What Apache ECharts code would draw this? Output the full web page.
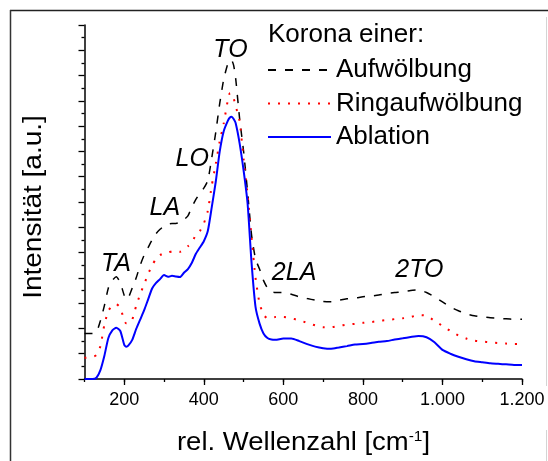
<!DOCTYPE html>
<html>
<head>
<meta charset="utf-8">
<script src="https://cdn.jsdelivr.net/npm/echarts@6/dist/echarts.min.js"></script>
<style>
  html, body { margin: 0; padding: 0; background: #fff; }
  #chart { width: 548px; height: 461px; }
</style>
</head>
<body>
<div id="chart"></div>
<script>
// Raman-Spektren (rel. Wellenzahl in cm^-1, Intensität in willkürlichen Einheiten)
const wavenumbers = [
  100, 120, 130, 140, 150, 160, 170, 180, 190, 200, 205, 210, 220, 230, 240, 250,
  260, 270, 280, 290, 300, 310, 320, 330, 340, 350, 360, 370, 380, 390, 400, 410,
  420, 430, 440, 450, 460, 465, 470, 475, 480, 490, 500, 510, 520, 530, 540, 550,
  560, 570, 580, 600, 620, 640, 660, 680, 700, 720, 740, 760, 780, 800, 820, 840,
  860, 880, 900, 920, 940, 960, 980, 1000, 1020, 1040, 1060, 1080, 1100, 1120,
  1140, 1160, 1180, 1200
];

const aufwoelbung = [
  1.80, 1.80, 1.85, 2.30, 2.90, 3.60, 3.90, 4.04, 3.80, 3.30, 3.15, 3.20, 3.60, 4.00, 4.50, 4.90,
  5.20, 5.50, 5.75, 5.92, 6.05, 6.12, 6.15, 6.15, 6.20, 6.30, 6.45, 6.80, 7.10, 7.35, 7.55, 7.85,
  8.75, 9.75, 10.90, 11.85, 12.45, 12.60, 12.60, 12.40, 11.90, 10.30, 9.00, 7.40, 5.70, 4.75, 4.35, 3.90,
  3.60, 3.45, 3.42, 3.42, 3.35, 3.25, 3.18, 3.12, 3.07, 3.06, 3.12, 3.17, 3.20, 3.25, 3.28, 3.32,
  3.38, 3.42, 3.45, 3.50, 3.52, 3.42, 3.25, 3.05, 2.85, 2.70, 2.58, 2.50, 2.46, 2.42,
  2.40, 2.38, 2.36, 2.36
];

const ringaufwoelbung = [
  0.84, 0.87, 0.95, 1.30, 2.15, 2.70, 2.90, 2.96, 2.82, 2.30, 2.20, 2.20, 2.35, 2.90, 3.35, 3.75,
  4.15, 4.50, 4.75, 4.90, 4.97, 5.00, 5.05, 5.06, 5.03, 5.10, 5.25, 5.40, 5.70, 5.85, 6.15, 6.65,
  7.65, 8.50, 9.40, 10.10, 11.00, 11.29, 11.30, 11.10, 10.80, 10.20, 8.70, 7.30, 5.60, 4.00, 3.00, 2.55,
  2.40, 2.40, 2.45, 2.45, 2.40, 2.32, 2.22, 2.12, 2.05, 2.05, 2.10, 2.15, 2.18, 2.22, 2.25, 2.30,
  2.33, 2.37, 2.40, 2.45, 2.53, 2.50, 2.30, 2.10, 1.90, 1.72, 1.60, 1.52, 1.48, 1.45,
  1.42, 1.40, 1.38, 1.38
];

const ablation = [
  0.00, 0.00, 0.05, 0.35, 0.92, 1.62, 1.92, 2.03, 1.90, 1.35, 1.28, 1.32, 1.55, 1.98, 2.35, 2.72,
  3.15, 3.58, 3.80, 3.95, 4.11, 4.04, 4.08, 4.05, 4.03, 4.20, 4.35, 4.60, 4.95, 5.20, 5.45, 5.85,
  6.80, 7.80, 9.00, 9.80, 10.20, 10.33, 10.37, 10.28, 10.12, 9.32, 8.25, 6.95, 4.60, 2.85, 2.20, 1.80,
  1.62, 1.56, 1.55, 1.60, 1.60, 1.50, 1.38, 1.28, 1.22, 1.20, 1.25, 1.30, 1.36, 1.38, 1.42, 1.47,
  1.50, 1.56, 1.61, 1.66, 1.70, 1.65, 1.45, 1.15, 1.00, 0.88, 0.78, 0.70, 0.66, 0.62,
  0.60, 0.58, 0.55, 0.55
];

const seriesNames = ['Aufwölbung', 'Ringaufwölbung', 'Ablation'];
const xTickLabels = [200, 400, 600, 800, 1000, 1200];
const peakNames = ['TO', 'LO', 'LA', 'TA', '2LA', '2TO'];

const FONT = '"Liberation Sans", Arial, Helvetica, sans-serif';

// 1000 -> "1.000"
function formatDe(v) {
  return String(v).replace(/\B(?=(\d{3})+(?!\d))/g, '.');
}

function pairs(ys) {
  return wavenumbers.map((x, i) => [x, ys[i]]);
}

const chart = echarts.init(document.getElementById('chart'), null, { renderer: 'canvas' });

const peakAnchors = [[467, 13.0], [371, 8.70], [302, 6.76], [179, 4.55], [627, 4.21], [942, 4.31]];

const option = {
  backgroundColor: '#ffffff',
  animation: false,
  grid: { left: 84.5, right: 26, top: 25, bottom: 82, containLabel: false },
  xAxis: [
    {
      type: 'value', min: 100, max: 1200, interval: 100,
      axisLine: { show: true, lineStyle: { color: '#000', width: 1.5 } },
      axisTick: { show: true, length: 3, lineStyle: { color: '#000', width: 1.3 } },
      axisLabel: { show: false },
      splitLine: { show: false }
    },
    {
      type: 'value', min: 100, max: 1200, position: 'bottom',
      axisLine: { show: false },
      axisTick: { show: true, length: 6, customValues: xTickLabels, lineStyle: { color: '#000', width: 1.3 } },
      axisLabel: {
        show: true, customValues: xTickLabels, margin: 12,
        formatter: formatDe, color: '#000', fontSize: 18, fontFamily: FONT
      },
      splitLine: { show: false }
    }
  ],
  yAxis: {
    type: 'value', min: 0, max: 14, interval: 1,
    axisLine: { show: true, lineStyle: { color: '#000', width: 1.5 } },
    axisTick: { show: true, length: 6, lineStyle: { color: '#000', width: 1.3 } },
    minorTick: { show: true, splitNumber: 2, length: 3, lineStyle: { color: '#000', width: 1.3 } },
    axisLabel: { show: false },
    splitLine: { show: false }
  },
  legend: {
    orient: 'vertical', left: 267, top: 57, padding: 0,
    itemWidth: 63, itemHeight: 14, itemGap: 7.5,
    data: seriesNames,
    // only the line sample, no marker
    itemStyle: { color: 'transparent', borderColor: 'transparent', borderWidth: 0, opacity: 0 },
    textStyle: { color: '#000', fontSize: 26, fontFamily: FONT }
  },
  series: [
    {
      name: seriesNames[0], type: 'line', xAxisIndex: 0, showSymbol: false, symbol: 'none',
      smooth: 0.2, data: pairs(aufwoelbung),
      lineStyle: { color: '#000', width: 1.5, type: [8, 9] },
      itemStyle: { color: '#000' },
      markPoint: {
        symbol: 'circle', symbolSize: 0, silent: true,
        label: {
          show: true, position: 'inside', formatter: '{b}', color: '#000',
          fontSize: 25, fontStyle: 'italic', fontFamily: FONT
        },
        data: peakNames.map((n, i) => ({ name: n, coord: peakAnchors[i] }))
      }
    },
    {
      name: seriesNames[1], type: 'line', xAxisIndex: 0, showSymbol: false, symbol: 'none',
      smooth: 0.2, data: pairs(ringaufwoelbung),
      lineStyle: { color: '#ff0000', width: 2, type: [2, 8] },
      itemStyle: { color: '#ff0000' }
    },
    {
      name: seriesNames[2], type: 'line', xAxisIndex: 0, showSymbol: false, symbol: 'none',
      smooth: 0.2, data: pairs(ablation),
      lineStyle: { color: '#0000ff', width: 2 },
      itemStyle: { color: '#0000ff' }
    }
  ],
  graphic: [
    // Rahmen
    { type: 'line', shape: { x1: 10, y1: 10.5, x2: 548, y2: 10.5 }, style: { stroke: '#222', lineWidth: 1.5 } },
    { type: 'line', shape: { x1: 10.5, y1: 10, x2: 10.5, y2: 461 }, style: { stroke: '#333', lineWidth: 1.5 } },
    { type: 'line', shape: { x1: 546.5, y1: 17, x2: 546.5, y2: 386 }, style: { stroke: '#d4d4d4', lineWidth: 1 } },
    { type: 'line', shape: { x1: 546.5, y1: 430, x2: 546.5, y2: 461 }, style: { stroke: '#d4d4d4', lineWidth: 1 } },
    // Legendentitel
    {
      type: 'text', left: 268, top: 22,
      style: { text: 'Korona einer:', fill: '#000', fontSize: 26, fontFamily: FONT }
    },
    // y-Achsentitel
    {
      type: 'text', x: 34, y: 207, rotation: Math.PI / 2, scaleX: 1.12,
      style: {
        text: 'Intensität [a.u.]', fill: '#000', fontSize: 25, fontFamily: FONT,
        align: 'center', verticalAlign: 'middle'
      }
    },
    // x-Achsentitel
    {
      type: 'text', x: 303.5, y: 443, scaleX: 1.1,
      style: {
        text: 'rel. Wellenzahl [cm{sup|-1}]', fill: '#000', fontSize: 25, fontFamily: FONT,
        align: 'center', verticalAlign: 'middle',
        rich: {
          sup: { fontSize: 14, fontFamily: FONT, fill: '#000', verticalAlign: 'top', lineHeight: 14, padding: [0, 0, 0, 0] }
        }
      }
    }
  ]
};

chart.setOption(option);
</script>
</body>
</html>
